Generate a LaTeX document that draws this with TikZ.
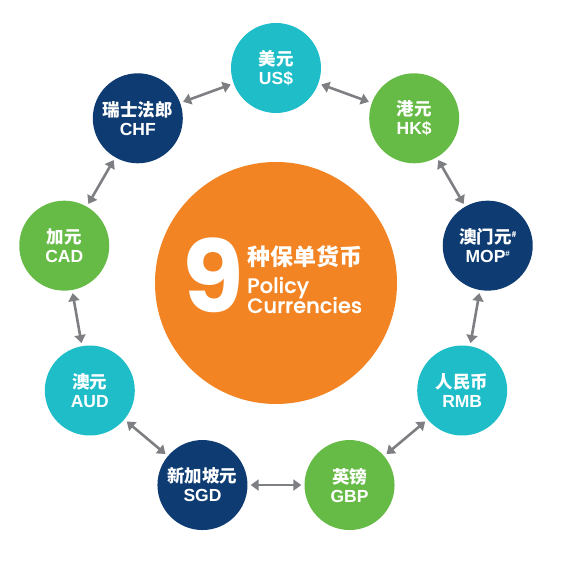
\documentclass[tikz,border=0pt]{standalone}
\usepackage{fontspec}
\setmainfont{Liberation Sans}
\newfontfamily\cjk{Noto Sans CJK SC}
\newfontfamily\pop{Poppins Medium}[FakeBold=0.6]
\newfontfamily\popbold{Poppins Bold}
\usepackage{tikz}
\usetikzlibrary{arrows.meta, positioning, calc}

\definecolor{curteal}{HTML}{1FBDC8}
\definecolor{curgreen}{HTML}{66BB46}
\definecolor{curnavy}{HTML}{0D3B72}
\definecolor{curorange}{HTML}{F28424}
\definecolor{arrgray}{HTML}{7E7F82}

\newcommand{\curlabel}[2]{{\cjk\bfseries #1}\\[-1pt]#2}
\newcommand{\hashmark}{\raisebox{6pt}{\fontsize{8}{8}\selectfont\#}}

\begin{document}
\begin{tikzpicture}[
  cur/.style={circle,minimum size=90pt,inner sep=0pt,align=center,text=white,
    font=\bfseries\fontsize{17.5}{20}\selectfont},
  hub/.style={circle,minimum size=242pt,inner sep=0pt,fill=curorange},
  link/.style={{Triangle[length=8pt,width=11pt]}-{Triangle[length=8pt,width=11pt]},
    line width=2.6pt,draw=arrgray,shorten <=3pt,shorten >=3pt}
]
  \useasboundingbox (-276pt,-278pt) rectangle (296pt,283pt);
  \node[hub] (ctr) at (0,0) {};
  \node[text=white,anchor=base,font=\popbold\fontsize{100}{100}\selectfont] (nine) at (-63pt,-30pt) {9};
  \node[text=white,anchor=base west,inner sep=0pt,font=\cjk\bfseries\fontsize{23}{23}\selectfont] (zh) at (-29pt,17pt) {种保单货币};
  \node[text=white,anchor=base west,inner sep=0pt,font=\pop\fontsize{21}{22}\selectfont] (pol) at (-29pt,-10pt) {Policy};
  \node[text=white,anchor=base west,inner sep=0pt,font=\pop\fontsize{21}{22}\selectfont] (crc) at (-29pt,-30pt) {Currencies};

  \node[cur,fill=curteal]  (usd) at (90:215pt)   {\curlabel{美元}{US\$}};
  \node[cur,fill=curgreen] (hkd) at (50:215pt)   {\curlabel{港元}{HK\$}};
  \node[cur,fill=curnavy]  (mop) at (10:215pt)   {\curlabel{澳门元\hashmark}{MOP\hashmark}};
  \node[cur,fill=curteal]  (rmb) at (-30:215pt)  {\curlabel{人民币}{RMB}};
  \node[cur,fill=curgreen] (gbp) at (-70:215pt)  {\curlabel{英镑}{GBP}};
  \node[cur,fill=curnavy]  (sgd) at (-110:215pt) {\curlabel{新加坡元}{SGD}};
  \node[cur,fill=curteal]  (aud) at (-150:215pt) {\curlabel{澳元}{AUD}};
  \node[cur,fill=curgreen] (cad) at (170:215pt)  {\curlabel{加元}{CAD}};
  \node[cur,fill=curnavy]  (chf) at (130:215pt)  {\curlabel{瑞士法郎}{CHF}};

  \draw[link] (usd)--(hkd); \draw[link] (hkd)--(mop); \draw[link] (mop)--(rmb);
  \draw[link] (rmb)--(gbp); \draw[link] (gbp)--(sgd); \draw[link] (sgd)--(aud);
  \draw[link] (aud)--(cad); \draw[link] (cad)--(chf); \draw[link] (chf)--(usd);
\end{tikzpicture}
\end{document}
